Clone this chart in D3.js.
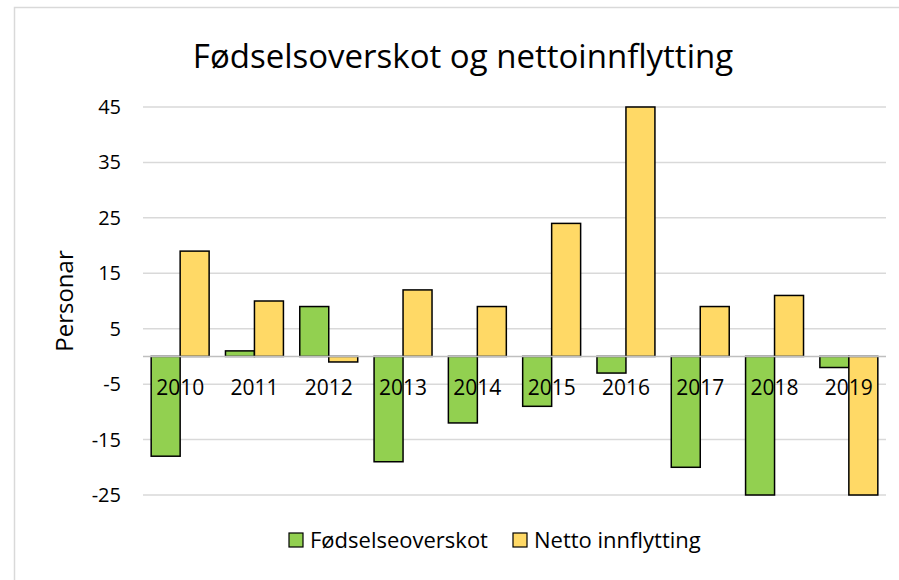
<!DOCTYPE html>
<html>
<head>
<meta charset="utf-8">
<script src="https://cdn.jsdelivr.net/npm/d3@7"></script>
<style>
  body { margin: 0; background: #fff; }
  text { font-family: "Open Sans", "Noto Sans", sans-serif; fill: #000; }
</style>
</head>
<body>
<div id="chart"></div>
<script>
// data
var years = ["2010", "2011", "2012", "2013", "2014", "2015", "2016", "2017", "2018", "2019"];
var fodsel = [-18, 1, 9, -19, -12, -9, -3, -20, -25, -2];
var netto = [19, 10, -1, 12, 9, 24, 45, 9, 11, -25];
var yTicks = [-25, -15, -5, 5, 15, 25, 35, 45];
var seriesNames = ["Fødselseoverskot", "Netto innflytting"];
var colors = ["#92d050", "#ffd966"];

var W = 899, H = 580;
var plotLeft = 143, plotRight = 886, plotTop = 107, plotBottom = 495;

var svg = d3.select("#chart").append("svg")
	.attr("width", W)
	.attr("height", H);

// chart border
svg.append("rect")
	.attr("x", 14.5).attr("y", 7.5)
	.attr("width", W).attr("height", H)
	.attr("fill", "none")
	.attr("stroke", "#d9d9d9")
	.attr("stroke-width", 1.5);

var x = d3.scaleBand().domain(years).range([plotLeft, plotRight]);
var y = d3.scaleLinear().domain([-25, 45]).range([plotBottom, plotTop]);

// gridlines
svg.selectAll(".grid")
	.data(yTicks)
	.enter().append("line")
	.attr("class", "grid")
	.attr("x1", plotLeft).attr("x2", plotRight)
	.attr("y1", function(d) { return y(d); })
	.attr("y2", function(d) { return y(d); })
	.attr("stroke", "#d9d9d9")
	.attr("stroke-width", 1.5);

// y tick labels
svg.selectAll(".ytick")
	.data(yTicks)
	.enter().append("text")
	.attr("class", "ytick")
	.attr("x", 121)
	.attr("y", function(d) { return y(d); })
	.attr("dy", "0.35em")
	.attr("text-anchor", "end")
	.attr("font-size", 20)
	.text(function(d) { return d; });

// bars
var bw = x.bandwidth() * 0.39;
var groups = [fodsel, netto];
groups.forEach(function(vals, s) {
	svg.selectAll(".bar" + s)
		.data(vals)
		.enter().append("rect")
		.attr("class", "bar" + s)
		.attr("x", function(d, i) { return x(years[i]) + x.bandwidth() / 2 - bw + s * bw; })
		.attr("y", function(d) { return y(Math.max(0, d)); })
		.attr("width", bw)
		.attr("height", function(d) { return Math.abs(y(d) - y(0)); })
		.attr("fill", colors[s])
		.attr("stroke", "#000")
		.attr("stroke-width", 1.5);
});

// zero line
svg.append("line")
	.attr("x1", plotLeft).attr("x2", plotRight)
	.attr("y1", y(0)).attr("y2", y(0))
	.attr("stroke", "#bfbfbf")
	.attr("stroke-width", 1.5);

// category labels, drawn just under zero
svg.selectAll(".xlab")
	.data(years)
	.enter().append("text")
	.attr("class", "xlab")
	.attr("x", function(d) { return x(d) + x.bandwidth() / 2; })
	.attr("y", y(0) + 39)
	.attr("text-anchor", "middle")
	.attr("font-size", 21)
	.text(function(d) { return d; });

// title
svg.append("text")
	.attr("x", 463)
	.attr("y", 68)
	.attr("text-anchor", "middle")
	.attr("font-size", 33)
	.text("Fødselsoverskot og nettoinnflytting");

// y axis title
svg.append("text")
	.attr("transform", "translate(73, " + ((plotTop + plotBottom) / 2) + ") rotate(-90)")
	.attr("text-anchor", "middle")
	.attr("font-size", 24)
	.text("Personar");

// legend
var legendX = [289, 513];
var lg = svg.selectAll(".legend")
	.data(seriesNames)
	.enter().append("g")
	.attr("class", "legend")
	.attr("transform", function(d, i) { return "translate(" + legendX[i] + ", 540)"; });
lg.append("rect")
	.attr("x", 0).attr("y", -7)
	.attr("width", 14).attr("height", 14)
	.attr("fill", function(d, i) { return colors[i]; })
	.attr("stroke", "#000")
	.attr("stroke-width", 1.2);
lg.append("text")
	.attr("x", 21)
	.attr("y", 0)
	.attr("dy", "0.35em")
	.attr("font-size", 22)
	.text(function(d) { return d; });
</script>
</body>
</html>
